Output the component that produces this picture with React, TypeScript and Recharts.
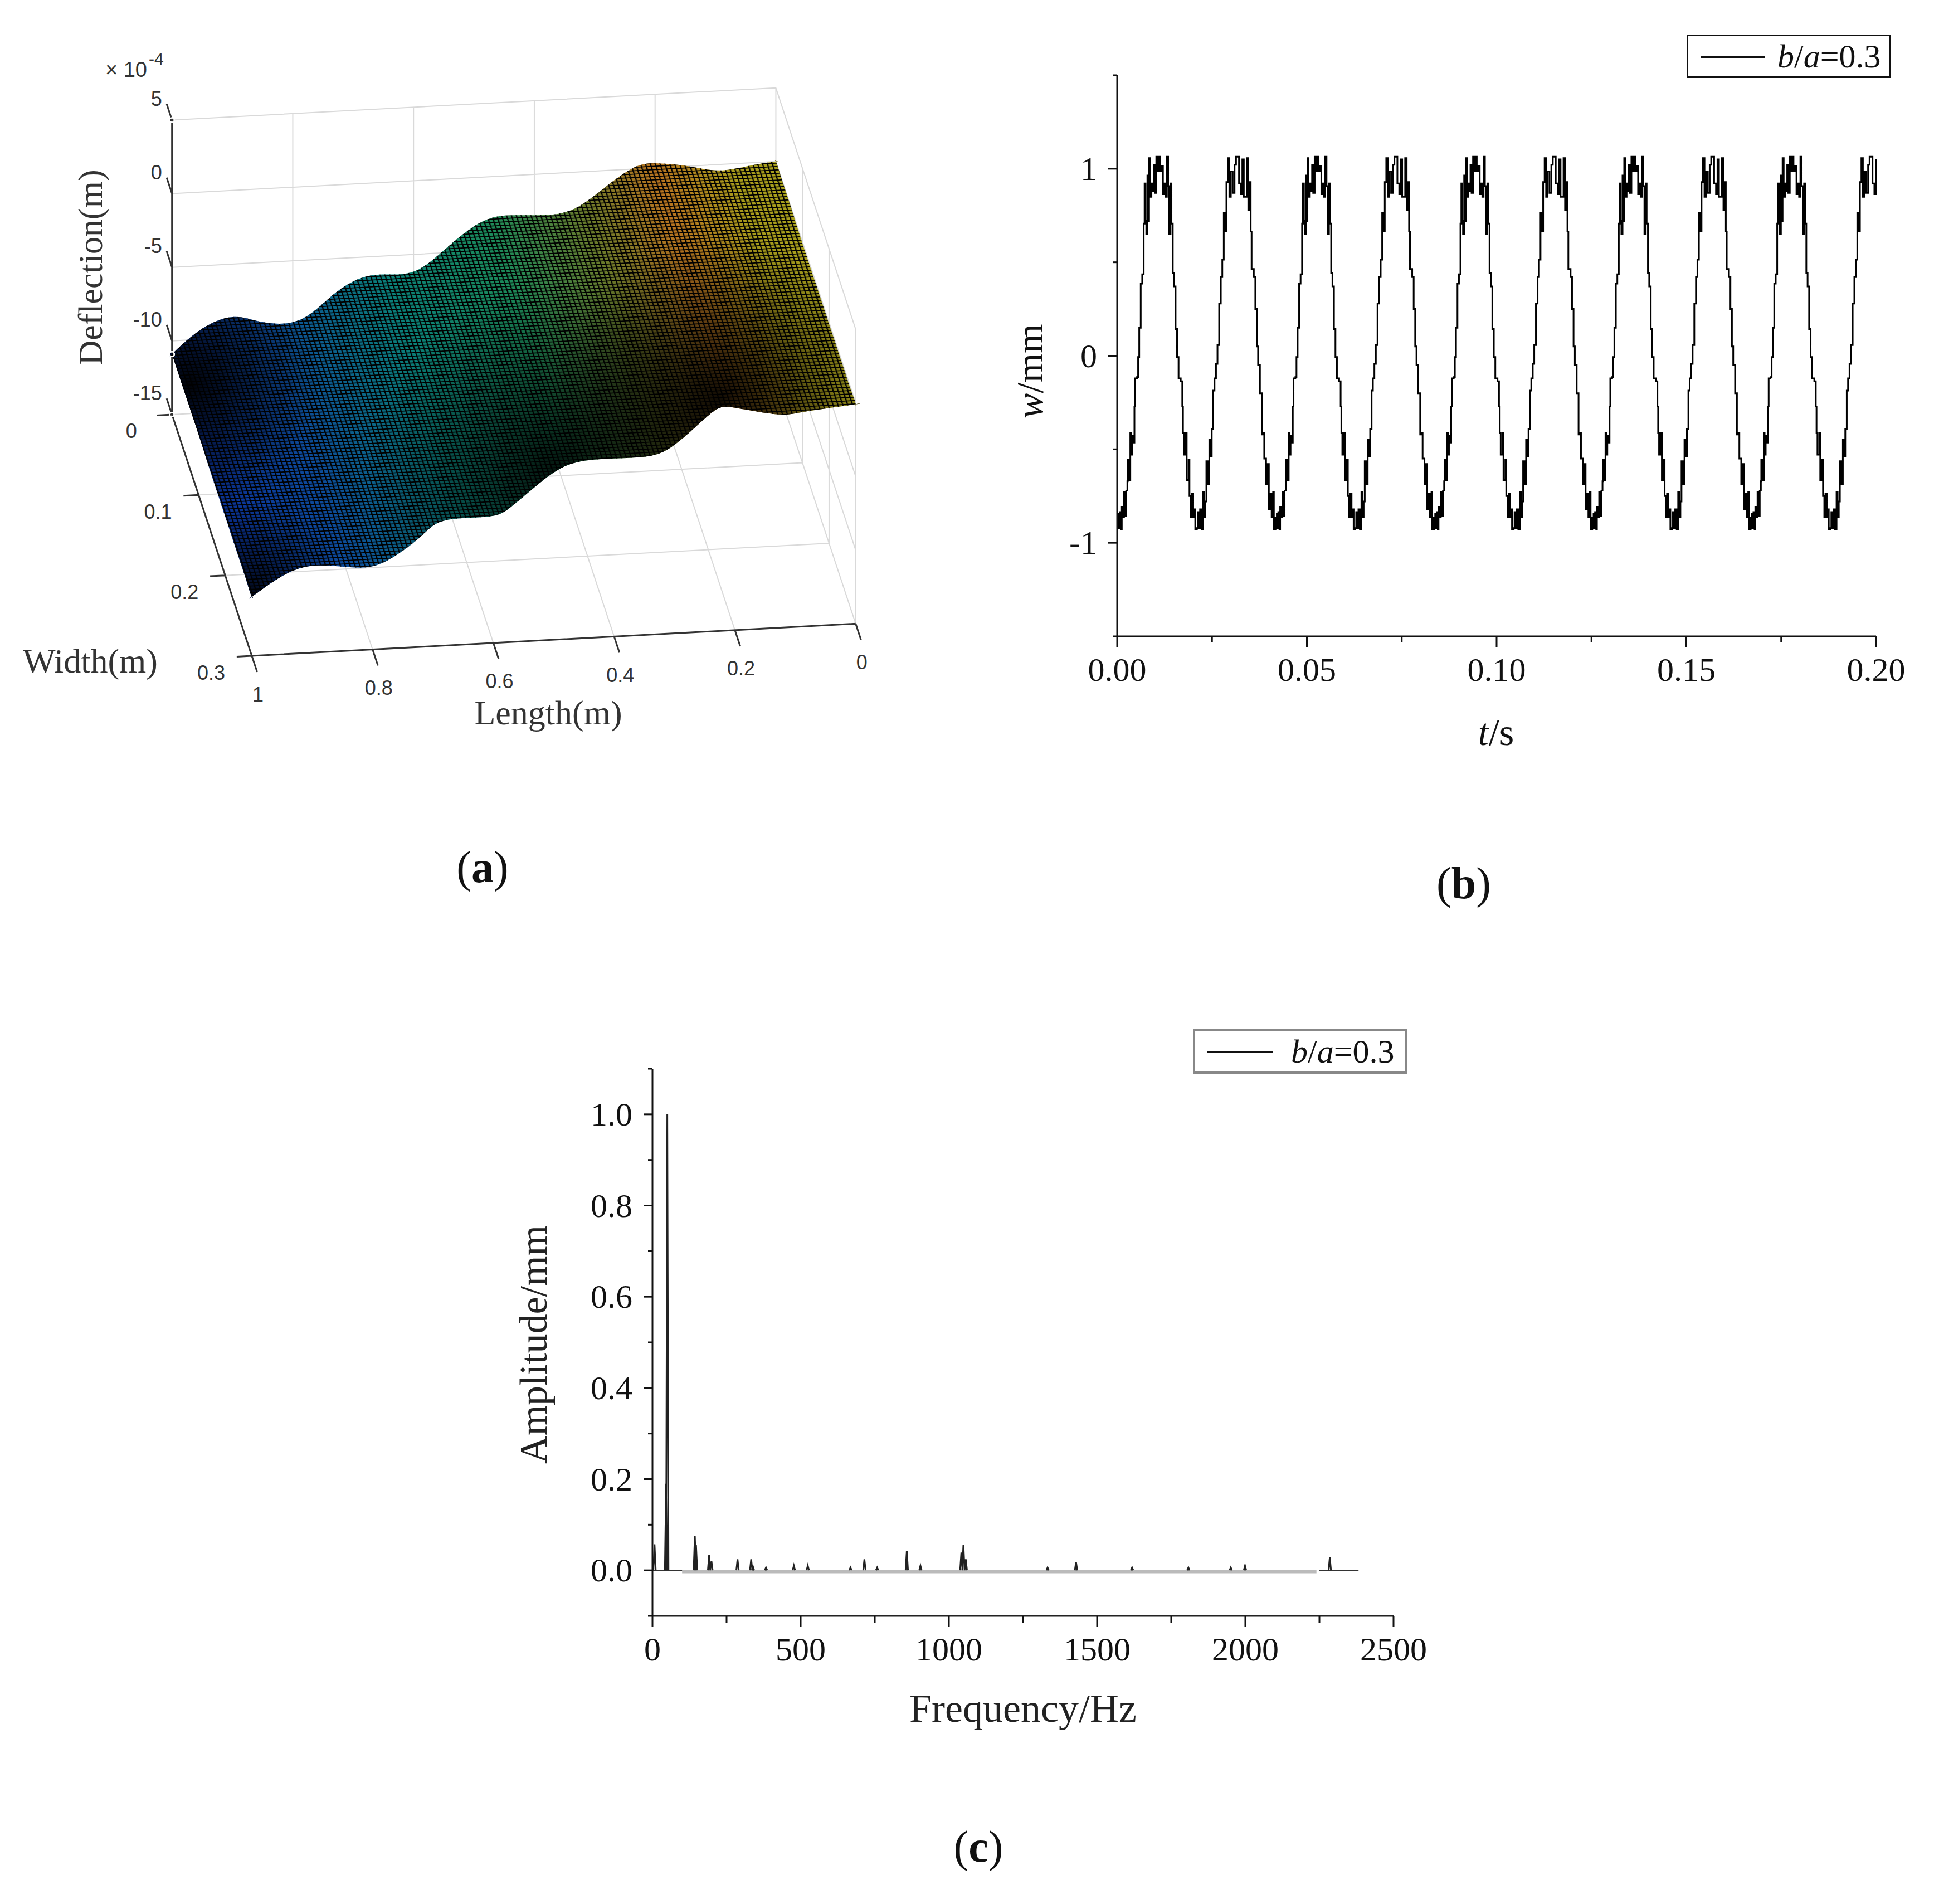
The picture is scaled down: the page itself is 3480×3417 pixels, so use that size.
import { Area, ComposedChart, Line, LineChart, XAxis, YAxis } from 'recharts'

const SERIF = '"Liberation Serif", serif'
const SANS = '"Liberation Sans", sans-serif'

// (a) surface, deflection read along the two long edges (x 1e-4 m)
const farLength = [1, 0.955, 0.9, 0.855, 0.805, 0.765, 0.725, 0.675, 0.625, 0.585, 0.54, 0.485, 0.435, 0.385, 0.335, 0.285, 0.235, 0.195, 0.145, 0.095, 0.045, 0]
const farDeflection = [-10.9, -9.4, -8.6, -9.0, -9.2, -8.5, -7.2, -6.3, -6.3, -5.9, -4.5, -3.0, -2.7, -2.8, -2.5, -1.2, 0.1, 0.3, 0, -0.4, -0.2, 0]
const nearLength = [1, 0.95, 0.89, 0.82, 0.77, 0.72, 0.68, 0.61, 0.57, 0.52, 0.47, 0.41, 0.35, 0.3, 0.24, 0.2, 0.13, 0.08, 0]
const nearDeflection = [-11, -9.7, -9.1, -9.4, -8.9, -7.5, -6.5, -6.4, -5.8, -4.2, -3.1, -2.9, -2.9, -2.2, -0.2, 0.1, -0.5, -0.4, -0.1]
// the two short edges, read at these widths
const edgeWidth = [0.02, 0.05, 0.1, 0.15, 0.2, 0.25, 0.28]
const startEdgeDeflection = [0, 0, -0.1, -0.1, -0.1, -0.1, -0.1]
const endEdgeDeflection = [-10.9, -10.9, -10.9, -11, -11, -11, -11]
const lengthTicks = [1, 0.8, 0.6, 0.4, 0.2, 0]
const widthTicks = [0, 0.1, 0.2, 0.3]
const deflectionTicks = [5, 0, -5, -10, -15]

// (b) two neighbouring periods of the time trace (ms into the period, mm)
const cycleATime = [0, 0.15, 0.34, 0.54, 0.73, 1.03, 1.22, 1.61, 1.81, 2.1, 2.39, 2.69, 2.79, 3.08, 3.47, 3.67, 3.96, 4.25, 4.55, 4.74, 5.23, 5.52, 5.82, 6.21, 6.6, 6.99, 7.23, 7.48, 7.67, 7.97, 8.16, 8.41, 8.7, 9.04, 9.38, 9.63, 9.92, 10.31, 10.61, 11.0, 11.29, 11.73, 12.07, 12.46, 12.76, 13.1, 13.44, 13.73, 14.08, 14.32, 14.66, 15.0, 15.4, 15.79, 16.18, 16.76, 17.16, 17.35, 17.6, 18.08, 18.33, 18.82, 19.06, 19.4, 19.7, 20.04, 20.38, 20.58]
const cycleAValue = [-0.864, -0.921, -0.843, -0.921, -0.836, -0.929, -0.807, -0.864, -0.729, -0.857, -0.721, -0.671, -0.557, -0.664, -0.414, -0.529, -0.429, -0.464, -0.271, -0.121, -0.114, -0.007, 0.15, 0.386, 0.436, 0.707, 0.921, 0.721, 0.65, 0.964, 0.721, 1.057, 0.85, 0.921, 0.879, 1.021, 0.871, 1.064, 0.986, 1.064, 0.986, 1.014, 0.864, 0.921, 0.85, 1.064, 0.907, 0.65, 0.921, 0.707, 0.443, 0.371, 0.143, -0.007, -0.121, -0.136, -0.271, -0.414, -0.529, -0.414, -0.664, -0.557, -0.75, -0.864, -0.736, -0.864, -0.821, -0.929]
const cycleBTime = [0.15, 0.39, 0.63, 0.98, 1.37, 1.76, 2.05, 2.35, 2.64, 2.98, 3.42, 3.71, 4.06, 4.45, 4.79, 5.18, 5.57, 6.01, 6.45, 6.84, 7.23, 7.62, 7.92, 8.31, 8.7, 9.09, 9.58, 10.07, 10.46, 10.85, 11.24, 11.73, 12.12, 12.51, 13.29, 13.69, 13.98, 14.32, 14.56, 15.15, 15.54, 15.93, 16.27, 16.76, 17.25, 17.6, 17.89, 18.38, 18.77, 19.11, 19.45, 19.84, 20.23, 20.43]
const cycleBValue = [-0.921, -0.836, -0.921, -0.821, -0.929, -0.729, -0.864, -0.779, -0.564, -0.686, -0.45, -0.536, -0.393, -0.186, -0.121, -0.043, 0.057, 0.279, 0.421, 0.514, 0.764, 0.664, 0.929, 1.057, 0.85, 0.986, 0.871, 1.021, 1.064, 1.064, 0.921, 0.864, 1.05, 0.85, 1.057, 0.779, 0.929, 0.664, 0.464, 0.421, 0.25, 0.05, -0.05, -0.2, -0.421, -0.414, -0.55, -0.686, -0.579, -0.821, -0.736, -0.864, -0.729, -0.929]
const cyclePeriod = 20.87
const timeTicks = [0, 0.025, 0.05, 0.075, 0.1, 0.125, 0.15, 0.175, 0.2]
const timeLabels = [0, 0.05, 0.1, 0.15, 0.2]
const wTicks = [-1.5, -1, -0.5, 0, 0.5, 1, 1.5]
const wLabels = [-1, 0, 1]

// (c) spectrum peaks
const peakFreq = [7, 46, 50, 143, 147, 191, 199, 287, 333, 339, 383, 477, 524, 668, 715, 758, 858, 904, 1042, 1049, 1057, 1333, 1429, 1618, 1808, 1951, 1999, 2285]
const peakAmp = [0.057, 0.19, 1.0, 0.075, 0.055, 0.033, 0.02, 0.024, 0.024, 0.008, 0.006, 0.01, 0.01, 0.006, 0.024, 0.006, 0.043, 0.01, 0.039, 0.056, 0.024, 0.006, 0.018, 0.006, 0.006, 0.006, 0.01, 0.028]
const freqTicks = [0, 250, 500, 750, 1000, 1250, 1500, 1750, 2000, 2250, 2500]
const freqLabels = [0, 500, 1000, 1500, 2000, 2500]
const ampTicks = [-0.1, 0, 0.1, 0.2, 0.3, 0.4, 0.5, 0.6, 0.7, 0.8, 0.9, 1.0, 1.1]
const ampLabels = [0, 0.2, 0.4, 0.6, 0.8, 1.0]

// projection of the 3D box onto the page plane of panel (a)
const UNIT = 3480 / 1567
const project = (length: number, width: number, deflection: number) => {
  const u = 1 - length
  const v = width / 0.3
  return {
    px: 139 + u * 488 + v * 64.5,
    py: 335 - u * 26 + v * 195 - (deflection + 15) * 11.9,
  }
}

const segments = (pairs: [any, any][]) =>
  pairs.flatMap(([a, b]) => [a, b, { px: b.px, py: null }])

const gridRows = segments([
  ...deflectionTicks.map((d) => [project(1, 0, d), project(0, 0, d)] as [any, any]),
  ...deflectionTicks.map((d) => [project(0, 0, d), project(0, 0.3, d)] as [any, any]),
  ...lengthTicks.map((l) => [project(l, 0, -15), project(l, 0, 5)] as [any, any]),
  ...widthTicks.map((w) => [project(0, w, -15), project(0, w, 5)] as [any, any]),
  ...lengthTicks.map((l) => [project(l, 0, -15), project(l, 0.3, -15)] as [any, any]),
  ...widthTicks.map((w) => [project(1, w, -15), project(0, w, -15)] as [any, any]),
])

const axisRows = segments([
  [project(1, 0, 5), project(1, 0, -15)],
  [project(1, 0, -15), project(1, 0.3, -15)],
  [project(1, 0.3, -15), project(0, 0.3, -15)],
  ...deflectionTicks.map((d) => [project(1, 0, d), project(1, -0.02, d)] as [any, any]),
  ...widthTicks.map((w) => [project(1, w, -15), project(1.025, w, -15)] as [any, any]),
  ...lengthTicks.map((l) => [project(l, 0.3, -15), project(l, 0.32, -15)] as [any, any]),
])

// corners repeated so the smoothed outline keeps them sharp
const farEdge = farLength.map((l, i) => project(l, 0, farDeflection[i]))
const nearEdge = nearLength.map((l, i) => project(l, 0.3, nearDeflection[i])).reverse()
const startEdge = edgeWidth.map((w, i) => project(0, w, startEdgeDeflection[i]))
const endEdge = edgeWidth.map((w, i) => project(1, w, endEdgeDeflection[i])).reverse()
const corner = (p: any) => [p, p, p]
const surfaceRows = [
  ...corner(farEdge[0]),
  ...farEdge.slice(1, -1),
  ...corner(farEdge[farEdge.length - 1]),
  ...startEdge,
  ...corner(nearEdge[0]),
  ...nearEdge.slice(1, -1),
  ...corner(nearEdge[nearEdge.length - 1]),
  ...endEdge,
  ...corner(farEdge[0]),
]

const deflectionLabelRows = deflectionTicks.map((d) => ({ ...project(1, 0, d), label: String(d) }))
const widthLabelRows = widthTicks.map((w) => ({ ...project(1, w, -15), label: String(w) }))
const lengthLabelRows = lengthTicks.map((l) => ({ ...project(l, 0.3, -15), label: String(l) }))

const waveRows = Array.from({ length: 10 }).flatMap((_, k) => {
  const times = k % 2 ? cycleBTime : cycleATime
  const values = k % 2 ? cycleBValue : cycleAValue
  return times.map((ms, i) => ({ t: (k * cyclePeriod + ms) / 1000, w: values[i] }))
}).filter((row) => row.t <= 0.2)

const peakRows = peakFreq.flatMap((f, i) => [
  { f: f - 4, amp: 0 },
  { f, amp: peakAmp[i] },
  { f: f + 4, amp: 0 },
  { f: f + 4, amp: null },
])
const floorRows = [{ f: 100, amp: -0.003 }, { f: 2240, amp: -0.003 }]
const darkFloorRows = [
  { f: 0, amp: 0 }, { f: 100, amp: 0 }, { f: 100, amp: null },
  { f: 2250, amp: 0 }, { f: 2382, amp: 0 },
]

const labelDot = (dx: number, dy: number, anchor: string) => (props: any) => (
  <text
    key={props.payload.label}
    x={props.cx + dx}
    y={props.cy + dy}
    textAnchor={anchor}
    dominantBaseline="central"
    fontFamily={SANS}
    fontSize={36}
    fill="#333"
  >
    {props.payload.label}
  </text>
)

const xTick = (labels: number[], format: (v: number) => string, major: number, minor: number, fontSize: number, gap: number) =>
  (props: any) => {
    const { x, y, payload } = props
    const isMajor = labels.includes(payload.value)
    return (
      <g key={payload.value}>
        <line x1={x} y1={y} x2={x} y2={y + (isMajor ? major : minor)} stroke="#111" strokeWidth={3} />
        {isMajor && (
          <text x={x} y={y + gap} textAnchor="middle" dominantBaseline="central" fontFamily={SERIF} fontSize={fontSize} fill="#111">
            {format(payload.value)}
          </text>
        )}
      </g>
    )
  }

const yTick = (labels: number[], format: (v: number) => string, major: number, minor: number, fontSize: number, gap: number) =>
  (props: any) => {
    const { x, y, payload } = props
    const isMajor = labels.includes(payload.value)
    return (
      <g key={payload.value}>
        <line x1={x - (isMajor ? major : minor)} y1={y} x2={x} y2={y} stroke="#111" strokeWidth={3} />
        {isMajor && (
          <text x={x - gap} y={y} textAnchor="end" dominantBaseline="central" fontFamily={SERIF} fontSize={fontSize} fill="#111">
            {format(payload.value)}
          </text>
        )}
      </g>
    )
  }

const layer = (left: number, top: number) => ({ position: 'absolute' as const, left, top })

function LegendBox({ left, top, width, height, lineWidth, lineGap, fontSize, soft }: any) {
  return (
    <div
      style={{
        ...layer(left, top),
        width,
        height,
        boxSizing: 'border-box',
        border: soft ? '3px solid #888' : '3px solid #111',
        borderBottomWidth: soft ? 5 : 3,
        background: '#fff',
        fontFamily: SERIF,
        fontSize,
        color: '#111',
      }}
    >
      <div style={{ ...layer(22, height / 2 - 3), width: lineWidth, height: 3, background: '#111' }} />
      <div style={{ ...layer(22 + lineWidth + lineGap, 0), height: height - 6, lineHeight: `${height - 6}px`, whiteSpace: 'nowrap' }}>
        <i>b</i>/<i>a</i>=0.3
      </div>
    </div>
  )
}

function Caption({ x, y, letter }: { x: number; y: number; letter: string }) {
  return (
    <div style={{ ...layer(x - 60, y - 50), width: 120, height: 100, lineHeight: '100px', textAlign: 'center', fontFamily: SERIF, fontSize: 80, color: '#111' }}>
      (<b>{letter}</b>)
    </div>
  )
}

const planeX = [0, 1700 / UNIT]
const planeY = [0, 1400 / UNIT]

function PanelA() {
  return (
    <>
      <div style={layer(0, 0)}>
        <LineChart width={1700} height={1400} margin={{ top: 0, right: 0, bottom: 0, left: 0 }}>
          <XAxis dataKey="px" type="number" domain={planeX} hide />
          <YAxis type="number" domain={planeY} reversed hide />
          <Line data={gridRows} dataKey="py" stroke="#d9d9d9" strokeWidth={2} dot={false} isAnimationActive={false} />
        </LineChart>
      </div>
      <div style={layer(0, 0)}>
        <ComposedChart width={1700} height={1400} data={surfaceRows} margin={{ top: 0, right: 0, bottom: 0, left: 0 }}>
          <defs>
            <linearGradient id="surfaceColor" gradientUnits="userSpaceOnUse" x1={309} y1={744} x2={1422} y2={376}>
              <stop offset="0" stopColor="#0a2f9c" />
              <stop offset="0.18" stopColor="#0c4a9a" />
              <stop offset="0.38" stopColor="#0a8078" />
              <stop offset="0.55" stopColor="#1a8a5a" />
              <stop offset="0.7" stopColor="#6a7a2a" />
              <stop offset="0.82" stopColor="#b87420" />
              <stop offset="0.93" stopColor="#a89a1c" />
              <stop offset="1" stopColor="#a8a01c" />
            </linearGradient>
            <radialGradient id="shadeRight" gradientUnits="userSpaceOnUse" cx={1290} cy={720} r={300}>
              <stop offset="0" stopColor="#000" stopOpacity={0.9} />
              <stop offset="1" stopColor="#000" stopOpacity={0} />
            </radialGradient>
            <radialGradient id="shadeMiddle" gradientUnits="userSpaceOnUse" cx={1000} cy={850} r={340}>
              <stop offset="0" stopColor="#000" stopOpacity={0.85} />
              <stop offset="1" stopColor="#000" stopOpacity={0} />
            </radialGradient>
            <radialGradient id="shadeLeft" gradientUnits="userSpaceOnUse" cx={340} cy={690} r={230}>
              <stop offset="0" stopColor="#000" stopOpacity={0.95} />
              <stop offset="1" stopColor="#000" stopOpacity={0} />
            </radialGradient>
            <radialGradient id="shadeCorner" gradientUnits="userSpaceOnUse" cx={450} cy={1070} r={170}>
              <stop offset="0" stopColor="#000" stopOpacity={0.85} />
              <stop offset="1" stopColor="#000" stopOpacity={0} />
            </radialGradient>
            <pattern id="mesh" patternUnits="userSpaceOnUse" width={10} height={10} patternTransform="matrix(0.86,-0.046,0.2,0.6,0,0)">
              <path d="M0 0H10M0 0V10" stroke="#000" strokeWidth={5.5} fill="none" />
            </pattern>
          </defs>
          <XAxis dataKey="px" type="number" domain={planeX} hide />
          <YAxis type="number" domain={planeY} reversed hide />
          {['surfaceColor', 'shadeRight', 'shadeMiddle', 'shadeLeft', 'shadeCorner', 'mesh'].map((fill) => (
            <Area key={fill} dataKey="py" type="natural" fill={`url(#${fill})`} fillOpacity={1} stroke="none" dot={false} isAnimationActive={false} />
          ))}
          <Line data={axisRows} dataKey="py" stroke="#333" strokeWidth={3} dot={false} isAnimationActive={false} />
          <Line data={deflectionLabelRows} dataKey="py" stroke="none" dot={labelDot(-18, -38, 'end')} isAnimationActive={false} />
          <Line data={widthLabelRows} dataKey="py" stroke="none" dot={labelDot(-73, 30, 'middle')} isAnimationActive={false} />
          <Line data={lengthLabelRows} dataKey="py" stroke="none" dot={labelDot(11, 69, 'middle')} isAnimationActive={false} />
          <text x={264} y={138} fontFamily={SANS} fontSize={38} fill="#333" textAnchor="end">× 10</text>
          <text x={267} y={116} fontFamily={SANS} fontSize={30} fill="#333">-4</text>
          <text x={162} y={480} fontFamily={SERIF} fontSize={62} fill="#333" textAnchor="middle" dominantBaseline="central" transform="rotate(-90 162 480)">Deflection(m)</text>
          <text x={162} y={1186} fontFamily={SERIF} fontSize={62} fill="#333" textAnchor="middle" dominantBaseline="central">Width(m)</text>
          <text x={984} y={1279} fontFamily={SERIF} fontSize={62} fill="#333" textAnchor="middle" dominantBaseline="central">Length(m)</text>
        </ComposedChart>
      </div>
    </>
  )
}

function PanelB() {
  return (
    <div style={layer(1800, 0)}>
      <LineChart width={1680} height={1500} data={waveRows} margin={{ top: 135, right: 113, bottom: 357, left: 204 }}>
        <XAxis
          dataKey="t"
          type="number"
          domain={[0, 0.2]}
          ticks={timeTicks}
          interval={0}
          height={1}
          tickLine={false}
          tickSize={0}
          tickMargin={0}
          axisLine={{ stroke: '#111', strokeWidth: 3 }}
          tick={xTick(timeLabels, (v) => v.toFixed(2), 20, 11, 60, 60)}
        />
        <YAxis
          type="number"
          domain={[-1.5, 1.5]}
          ticks={wTicks}
          interval={0}
          width={1}
          tickLine={false}
          tickSize={0}
          tickMargin={0}
          axisLine={{ stroke: '#111', strokeWidth: 3 }}
          tick={yTick(wLabels, String, 16, 8, 60, 36)}
        />
        <Line dataKey="w" type="stepAfter" stroke="#000" strokeWidth={3} dot={false} isAnimationActive={false} />
        <text x={885} y={1314} fontFamily={SERIF} fontSize={68} fill="#111" textAnchor="middle" dominantBaseline="central">
          <tspan fontStyle="italic">t</tspan>/s
        </text>
        <text x={48} y={666} fontFamily={SERIF} fontSize={68} fill="#111" textAnchor="middle" dominantBaseline="central" transform="rotate(-90 48 666)">
          <tspan fontStyle="italic">w</tspan>/mm
        </text>
      </LineChart>
    </div>
  )
}

function PanelC() {
  return (
    <div style={layer(900, 1800)}>
      <LineChart width={1700} height={1500} margin={{ top: 118, right: 99, bottom: 399, left: 270 }}>
        <XAxis
          dataKey="f"
          type="number"
          domain={[0, 2500]}
          ticks={freqTicks}
          interval={0}
          height={1}
          tickLine={false}
          tickSize={0}
          tickMargin={0}
          axisLine={{ stroke: '#222', strokeWidth: 3 }}
          tick={xTick(freqLabels, String, 20, 12, 60, 60)}
        />
        <YAxis
          type="number"
          domain={[-0.1, 1.1]}
          ticks={ampTicks}
          interval={0}
          width={1}
          tickLine={false}
          tickSize={0}
          tickMargin={0}
          axisLine={{ stroke: '#111', strokeWidth: 3 }}
          tick={yTick(ampLabels, (v) => v.toFixed(1), 16, 8, 60, 36)}
        />
        <Line data={floorRows} dataKey="amp" stroke="#bbb" strokeWidth={6} dot={false} isAnimationActive={false} />
        <Line data={darkFloorRows} dataKey="amp" stroke="#333" strokeWidth={2.5} dot={false} isAnimationActive={false} />
        <Line data={peakRows} dataKey="amp" stroke="#222" strokeWidth={3} dot={false} isAnimationActive={false} />
        <text x={936} y={1266} fontFamily={SERIF} fontSize={72} fill="#222" textAnchor="middle" dominantBaseline="central">Frequency/Hz</text>
        <text x={57} y={613} fontFamily={SERIF} fontSize={70} fill="#222" textAnchor="middle" dominantBaseline="central" transform="rotate(-90 57 613)">Amplitude/mm</text>
      </LineChart>
    </div>
  )
}

export default function App() {
  return (
    <div style={{ position: 'absolute', left: 0, top: 0, width: 3480, height: 3417, background: '#fff', overflow: 'hidden' }}>
      <PanelA />
      <PanelB />
      <PanelC />
      <LegendBox left={3027} top={62} width={366} height={78} lineWidth={116} lineGap={22} fontSize={60} />
      <LegendBox left={2141} top={1847} width={384} height={80} lineWidth={118} lineGap={33} fontSize={60} soft />
      <Caption x={866} y={1556} letter="a" />
      <Caption x={2627} y={1585} letter="b" />
      <Caption x={1756} y={3314} letter="c" />
    </div>
  )
}
